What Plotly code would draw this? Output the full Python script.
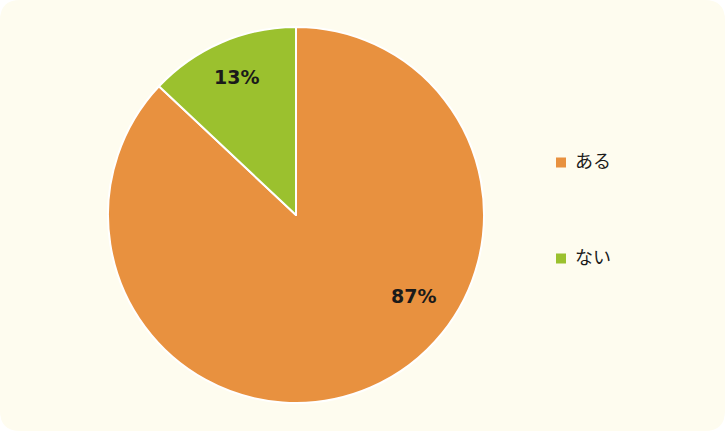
import math
import plotly.graph_objects as go

labels = ["ある", "ない"]
values = [87, 13]
colors = ["#E8913F", "#9BC12E"]

W, H = 725, 431
CX, CY, R = 296, 215, 188  # pixel center / radius of the pie
fig = go.Figure()
fig.add_trace(go.Pie(
    labels=labels, values=values, sort=False, direction="clockwise", rotation=0,
    marker=dict(colors=colors, line=dict(color="#FFFFFF", width=2)),
    textinfo="none",
    domain=dict(x=[(CX - R) / W, (CX + R) / W], y=[(H - CY - R) / H, (H - CY + R) / H]),
    showlegend=False, hoverinfo="label+percent",
))

# data labels (Excel-style best-fit placement)
label_angle_shift = [-32, 0]
label_radius_frac = [0.76, 0.80]
annotations = []
total = sum(values)
cum = 0
for v, sh, rf in zip(values, label_angle_shift, label_radius_frac):
    mid = (cum + v / 2) / total * 360 + sh
    cum += v
    px = CX + rf * R * math.sin(math.radians(mid))
    py = CY - rf * R * math.cos(math.radians(mid))
    annotations.append(dict(x=px / W, y=1 - py / H, xref="paper", yref="paper",
                            xanchor="center", yanchor="middle",
                            text=f"<b>{round(v / total * 100)}%</b>", showarrow=False,
                            font=dict(family="DejaVu Sans", size=19, color="#1A1A1A")))

shapes = [dict(type="path", xref="paper", yref="paper", layer="below",
               path="M 0.028,0 L 0.972,0 Q 1,0 1,0.047 L 1,0.953 Q 1,1 0.972,1 L 0.028,1 Q 0,1 0,0.953 L 0,0.047 Q 0,0 0.028,0 Z",
               fillcolor="#FEFCEF", line=dict(width=0))]
leg_marker_y = [162.5, 258.5]
leg_text_y = [160, 256]
for lab, col, my, ty in zip(labels, colors, leg_marker_y, leg_text_y):
    shapes.append(dict(type="rect", xref="paper", yref="paper",
                       x0=556 / W, x1=566 / W, y0=1 - (my + 5) / H, y1=1 - (my - 5) / H,
                       fillcolor=col, line=dict(width=0)))
    annotations.append(dict(x=573 / W, y=1 - ty / H, xref="paper", yref="paper",
                            text=lab, showarrow=False, xanchor="left", yanchor="middle",
                            font=dict(family="Noto Sans CJK JP", size=18, color="#1A1A1A")))

fig.update_layout(
    width=W, height=H, margin=dict(l=0, r=0, t=0, b=0),
    paper_bgcolor="#FFFFFF", plot_bgcolor="#FFFFFF",
    shapes=shapes, annotations=annotations,
)
fig.write_html("out.html", config={"displayModeBar": False},
               post_script="document.body.style.margin='0';")
